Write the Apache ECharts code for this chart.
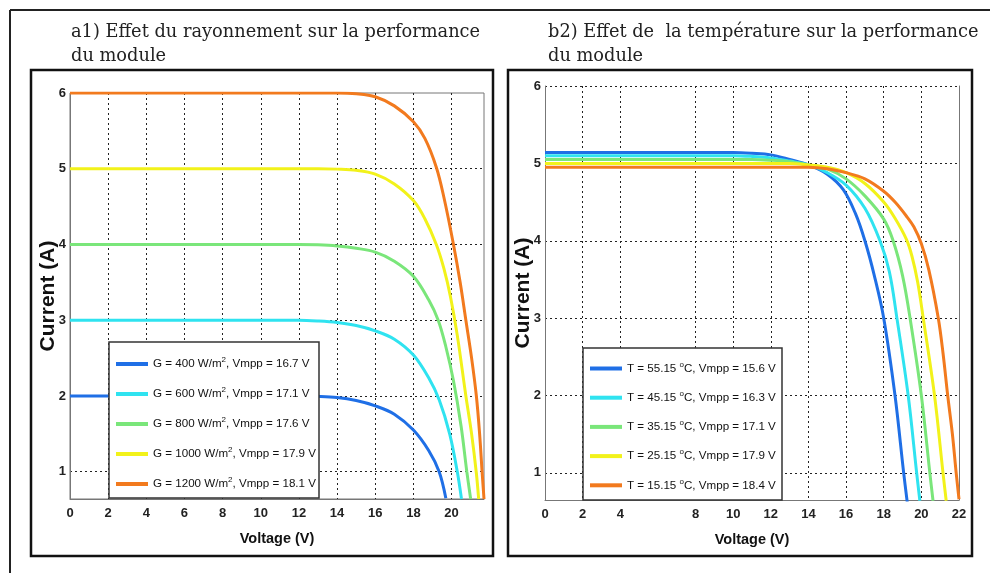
<!DOCTYPE html>
<html>
<head>
<meta charset="utf-8">
<script src="https://cdn.jsdelivr.net/npm/echarts@6/dist/echarts.min.js"></script>
<style>
html,body{margin:0;padding:0;background:#fff;}
#chart{width:990px;height:573px;}
</style>
</head>
<body>
<div id="chart"></div>
<script>
// ---------- DATA ----------
// Panel a1 : effect of irradiance (V, I)
const irradiance = [400, 600, 800, 1000, 1200];
const vmppIrr = [16.7, 17.1, 17.6, 17.9, 18.1];
const g400 = [[0,2.0],[4,2.0],[8,2.0],[10,2.0],[12,2.0],[13,1.995],[14,1.98],[15,1.94],[16,1.87],[17,1.76],[18,1.55],[18.8,1.28],[19.35,1.0],[19.7,0.65]];
const g600 = [[0,3.0],[4,3.0],[8,3.0],[10,3.0],[12,3.0],[13,2.99],[14,2.97],[15,2.93],[16,2.86],[17,2.75],[18,2.54],[18.8,2.24],[19.35,1.95],[19.9,1.5],[20.3,1.0],[20.52,0.64]];
const g800 = [[0,4.0],[4,4.0],[8,4.0],[10,4.0],[12,4.0],[13,3.995],[14,3.98],[15,3.95],[16,3.9],[17,3.78],[18,3.58],[18.8,3.27],[19.3,3.0],[19.7,2.65],[20.1,2.2],[20.5,1.6],[20.8,1.0],[21.0,0.64]];
const g1000 = [[0,5.0],[4,5.0],[8,5.0],[11,5.0],[13,5.0],[14,4.995],[15,4.98],[16,4.93],[17,4.8],[18,4.58],[18.6,4.34],[19.2,4.0],[19.6,3.68],[19.95,3.3],[20.3,2.8],[20.75,2.0],[21.05,1.5],[21.3,0.98],[21.42,0.64]];
const g1200 = [[0,6.0],[4,6.0],[8,6.0],[11,6.0],[13,6.0],[14,6.0],[15,5.99],[16,5.95],[17,5.83],[18,5.62],[18.6,5.4],[19.2,5.02],[19.6,4.62],[20.1,4.0],[20.45,3.5],[20.75,3.0],[21.05,2.5],[21.3,2.0],[21.47,1.5],[21.6,1.0],[21.7,0.64]];

// Panel b2 : effect of temperature (V, I)
const temperatures = ['55.15', '45.15', '35.15', '25.15', '15.15'];
const vmppTemp = [15.6, 16.3, 17.1, 17.9, 18.4];
const t55 = [[0,5.14],[4,5.14],[8,5.14],[10,5.14],[11,5.13],[12,5.11],[13,5.05],[14,4.98],[15,4.86],[15.85,4.66],[16.5,4.35],[17,4.0],[17.5,3.55],[18,3.0],[18.6,2.0],[19.06,1.0],[19.25,0.62]];
const t45 = [[0,5.1],[4,5.1],[8,5.1],[10,5.1],[11,5.09],[12,5.07],[13,5.03],[14,4.98],[15,4.88],[16,4.72],[17,4.42],[17.8,4.0],[18.3,3.6],[18.7,3.0],[19.3,2.0],[19.75,1.0],[19.92,0.64]];
const t35 = [[0,5.05],[4,5.05],[8,5.05],[11,5.05],[12,5.04],[13,5.02],[14,4.98],[15,4.93],[16,4.8],[17,4.58],[18,4.28],[18.5,4.0],[19.0,3.55],[19.4,3.0],[20.0,2.0],[20.45,1.0],[20.62,0.64]];
const t25 = [[0,5.0],[4,5.0],[8,5.0],[11,5.0],[13,5.0],[14,4.98],[15,4.95],[16,4.88],[17,4.74],[18,4.5],[18.6,4.29],[19.2,4.02],[19.5,3.8],[19.8,3.47],[20.1,3.0],[20.7,2.0],[21.15,1.0],[21.32,0.64]];
const t15 = [[0,4.95],[4,4.95],[8,4.95],[11,4.95],[13,4.95],[14,4.95],[15,4.93],[16,4.88],[17,4.8],[18,4.64],[18.6,4.5],[19.2,4.32],[19.6,4.18],[20.0,3.96],[20.4,3.62],[20.9,3.0],[21.15,2.55],[21.4,2.0],[21.65,1.5],[21.85,1.0],[22.0,0.66]];

// tick labels
const xLabelsA = [0,2,4,6,8,10,12,14,16,18,20];
const xLabelsB = [0,2,4,8,10,12,14,16,18,20,22];
const yLabels = [1,2,3,4,5,6];

// ---------- STYLE ----------
const colors = ['#1f6fe6', '#2fe3f0', '#7ae67a', '#f2f21a', '#f27a1e'];
const sans = '"Liberation Sans",Arial,Helvetica,sans-serif';
const serif = '"DejaVu Serif","Liberation Serif",serif';
const tickFont = {fontFamily: sans, fontWeight: 'bold', fontSize: 13, color: '#222'};
const gridDash = {color: '#222', width: 1, type: [2, 3]};
const frameLine = {color: '#777', width: 1};

const irrNames = irradiance.map((g, i) => 'G = ' + g + ' W/m{s|2}, Vmpp = ' + vmppIrr[i] + ' V');
const tempNames = temperatures.map((t, i) => 'T = ' + t + ' {s|o}C, Vmpp = ' + vmppTemp[i] + ' V');
const irrData = [g400, g600, g800, g1000, g1200];
const tempData = [t55, t45, t35, t25, t15];

const series = [];
irrData.forEach((d, i) => series.push({
  name: irrNames[i], type: 'line', xAxisIndex: 0, yAxisIndex: 0, data: d,
  symbol: 'none', smooth: 0.35, z: 2 + i * 0.01,
  lineStyle: {color: colors[i], width: 3}, itemStyle: {color: colors[i]}
}));
tempData.forEach((d, i) => series.push({
  name: tempNames[i], type: 'line', xAxisIndex: 1, yAxisIndex: 1, data: d,
  symbol: 'none', smooth: 0.35, z: 2 + i * 0.01,
  lineStyle: {color: colors[i], width: 3}, itemStyle: {color: colors[i]}
}));

const legendText = {
  fontFamily: sans, fontSize: 11.6, color: '#111', lineHeight: 16,
  rich: {s: {fontFamily: sans, fontSize: 8, lineHeight: 7, verticalAlign: 'top', color: '#111'}}
};

function xAxisCfg(grid, max, labels, ticks) {
  return {
    type: 'value', gridIndex: grid, min: 0, max: max,
    name: 'Voltage (V)', nameLocation: 'middle', nameGap: 32, nameMoveOverlap: false,
    nameTextStyle: {fontFamily: sans, fontWeight: 'bold', fontSize: 14.5, color: '#111'},
    axisLine: {show: true, onZero: false, lineStyle: frameLine},
    axisTick: {show: false, customValues: ticks},
    axisLabel: Object.assign({customValues: labels, margin: 8}, tickFont),
    splitLine: {show: true, lineStyle: gridDash}
  };
}
function yAxisCfg(grid, min, ticks) {
  return {
    type: 'value', gridIndex: grid, min: min, max: 6,
    name: 'Current (A)', nameLocation: 'middle', nameGap: 11.5, nameMoveOverlap: false,
    nameTextStyle: {fontFamily: sans, fontWeight: 'bold', fontSize: 21, color: '#111'},
    axisLine: {show: true, onZero: false, lineStyle: frameLine},
    axisTick: {show: false, customValues: ticks},
    axisLabel: Object.assign({customValues: yLabels, margin: 4}, tickFont),
    splitLine: {show: true, lineStyle: gridDash}
  };
}

const titleStyle = {fontFamily: serif, fontWeight: 'normal', fontSize: 17.8, lineHeight: 24, color: '#222'};

const option = {
  backgroundColor: '#fff',
  animation: false,
  title: [
    {text: 'a1) Effet du rayonnement sur la performance\ndu module', left: 66, top: 15, textStyle: titleStyle},
    {text: 'b2) Effet de  la température sur la performance\ndu module', left: 543, top: 15, textStyle: titleStyle}
  ],
  grid: [
    {left: 70, top: 93, width: 414, height: 406, show: true, borderColor: '#777', borderWidth: 1, backgroundColor: 'transparent'},
    {left: 545, top: 86, width: 414, height: 414}
  ],
  xAxis: [
    xAxisCfg(0, 21.7, xLabelsA, [2,4,6,8,10,12,14,16,18,20]),
    xAxisCfg(1, 22, xLabelsB, [2,4,8,10,12,14,16,18,20])
  ],
  yAxis: [
    yAxisCfg(0, 0.64, [1,2,3,4,5]),
    yAxisCfg(1, 0.65, [1,2,3,4,5,6]),
    {type: 'value', gridIndex: 1, position: 'right', min: 0.65, max: 6,
     axisLine: {show: true, onZero: false, lineStyle: frameLine},
     axisTick: {show: false}, axisLabel: {show: false}, splitLine: {show: false}}
  ],
  legend: [
    {data: irrNames, orient: 'vertical', left: 116, top: 356, padding: 0, itemWidth: 32, itemHeight: 4, itemGap: 14,
     icon: 'rect', selectedMode: false, textStyle: legendText, z: 10},
    {data: tempNames, orient: 'vertical', left: 590, top: 360.5, padding: 0, itemWidth: 32, itemHeight: 4, itemGap: 13.2,
     icon: 'rect', selectedMode: false, textStyle: legendText, z: 10}
  ],
  graphic: [
    {type: 'line', shape: {x1: 10, y1: 10, x2: 990, y2: 10}, style: {stroke: '#222', lineWidth: 2}, z: 1},
    {type: 'line', shape: {x1: 10, y1: 10, x2: 10, y2: 573}, style: {stroke: '#222', lineWidth: 2}, z: 1},
    {type: 'rect', shape: {x: 31, y: 70, width: 462, height: 486}, style: {fill: 'none', stroke: '#111', lineWidth: 2.5}, z: 1},
    {type: 'rect', shape: {x: 508, y: 70, width: 464, height: 486}, style: {fill: 'none', stroke: '#111', lineWidth: 2.5}, z: 1},
    {type: 'rect', shape: {x: 109, y: 342, width: 210, height: 156}, style: {fill: '#fff', stroke: '#333', lineWidth: 1.5}, z: 5},
    {type: 'rect', shape: {x: 583, y: 348, width: 199, height: 152}, style: {fill: '#fff', stroke: '#333', lineWidth: 1.5}, z: 5}
  ],
  series: series
};

const chart = echarts.init(document.getElementById('chart'), null, {renderer: 'canvas'});
chart.setOption(option);
</script>
</body>
</html>
